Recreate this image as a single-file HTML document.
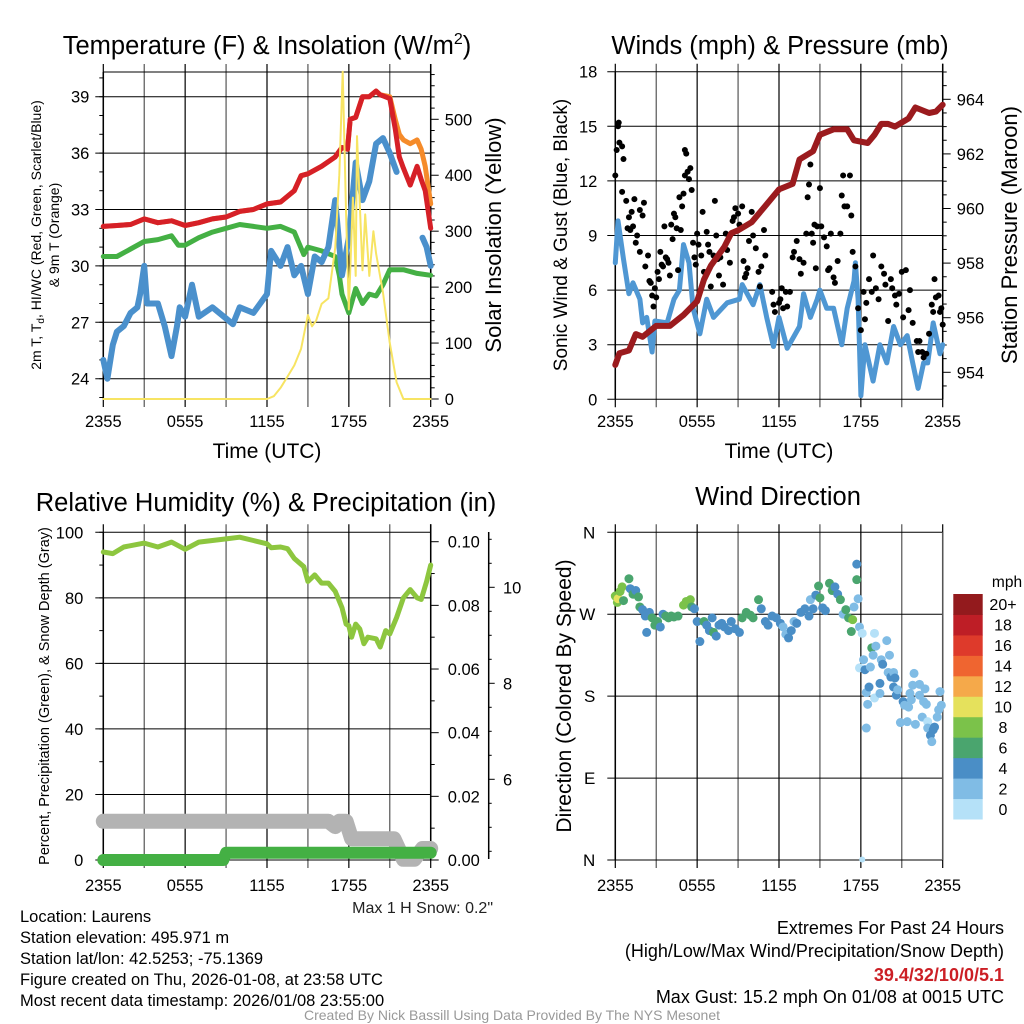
<!DOCTYPE html>
<html><head><meta charset="utf-8">
<style>
html,body{margin:0;padding:0;background:#fff;}
svg{display:block;font-family:"Liberation Sans",sans-serif;}
</style></head>
<body>
<svg id="fig" width="1024" height="1024" viewBox="0 0 1024 1024">
<rect width="1024" height="1024" fill="#fff"/>
<text x="267" y="54" font-size="25.5" text-anchor="middle">Temperature (F) &amp; Insolation (W/m<tspan font-size="16" dy="-10">2</tspan><tspan dy="10">)</tspan></text>
<text x="780" y="54" font-size="25.5" text-anchor="middle">Winds (mph) &amp; Pressure (mb)</text>
<text x="266" y="511" font-size="25.5" text-anchor="middle">Relative Humidity (%) &amp; Precipitation (in)</text>
<text x="778" y="505" font-size="25.5" text-anchor="middle">Wind Direction</text>

<text x="267" y="458" font-size="21" text-anchor="middle">Time (UTC)</text>
<text x="779" y="458" font-size="21" text-anchor="middle">Time (UTC)</text>

<text transform="translate(41,235) rotate(-90)" font-size="14" text-anchor="middle">2m T, T<tspan font-size="10" dy="3">d</tspan><tspan dy="-3">, HI/WC (Red, Green, Scarlet/Blue)</tspan></text>
<text transform="translate(59,235) rotate(-90)" font-size="14" text-anchor="middle">&amp; 9m T (Orange)</text>
<text transform="translate(501,235) rotate(-90)" font-size="22" text-anchor="middle">Solar Insolation (Yellow)</text>
<text transform="translate(567,235) rotate(-90)" font-size="19" text-anchor="middle">Sonic Wind &amp; Gust (Blue, Black)</text>
<text transform="translate(1017,235) rotate(-90)" font-size="22" text-anchor="middle">Station Pressure (Maroon)</text>
<text transform="translate(49,696) rotate(-90)" font-size="14.5" text-anchor="middle">Percent, Precipitation (Green), &amp; Snow Depth (Gray)</text>
<text transform="translate(571,696) rotate(-90)" font-size="21" text-anchor="middle">Direction (Colored By Speed)</text>

<text x="493" y="913" font-size="16" text-anchor="end" fill="#222">Max 1 H Snow: 0.2"</text>
<g font-size="16.5">
<text x="20" y="922">Location: Laurens</text>
<text x="20" y="943">Station elevation: 495.971 m</text>
<text x="20" y="964">Station lat/lon: 42.5253; -75.1369</text>
<text x="20" y="985">Figure created on Thu, 2026-01-08, at 23:58 UTC</text>
<text x="20" y="1006">Most recent data timestamp: 2026/01/08 23:55:00</text>
</g>
<g font-size="18" text-anchor="end">
<text x="1004" y="934">Extremes For Past 24 Hours</text>
<text x="1004" y="957">(High/Low/Max Wind/Precipitation/Snow Depth)</text>
<text x="1004" y="981" fill="#cc1f25" font-weight="bold">39.4/32/10/0/5.1</text>
<text x="1004" y="1003">Max Gust: 15.2 mph On 01/08 at 0015 UTC</text>
</g>
<text x="512" y="1020" font-size="14" text-anchor="middle" fill="#999">Created By Nick Bassill Using Data Provided By The NYS Mesonet</text>
<g id="layer"></g>
</svg>
<script>
// ---- Panel 1 data ----
const redT=[0,1,2,3,4,5,6,7,8,9,10,11,12,13,14,14.5,15,16,17,17.5,17.9,18.1,18.5,19,19.5,20,20.3,21,21.4,21.7,22,22.5,23,23.3,23.6,24];
const redV=[32.1,32.15,32.2,32.5,32.3,32.4,32.15,32.3,32.5,32.6,32.9,33.0,33.3,33.4,34.0,34.8,34.9,35.3,35.8,36.3,36.2,37.8,37.9,39.0,39.0,39.3,39.1,38.9,37.3,35.8,35.2,34.3,35.3,34.6,34.0,32.0];
const orangeT=[0,1,2,3,4,5,6,7,8,9,10,11,12,13,14,14.5,15,16,17,17.5,17.9,18.1,18.5,19,19.5,20,20.3,21,21.4,21.7,22,22.5,23,23.3,23.6,24];
const orangeV=[32.1,32.15,32.2,32.5,32.3,32.4,32.15,32.3,32.5,32.6,32.9,33.0,33.3,33.4,34.0,34.8,34.9,35.3,35.8,36.3,36.2,37.8,37.9,39.0,39.0,39.3,39.1,39.0,37.8,37.0,36.7,36.5,36.7,36.2,35.3,33.3];
const greenT=[0,1,2,3,4,5,5.5,6,7,8,9,10,11,12,13,14,14.7,15,16,17,17.3,17.5,18,18.5,19,19.5,20,20.5,21,22,23,24];
const greenV=[30.5,30.5,30.9,31.3,31.4,31.6,31.1,31.1,31.5,31.8,32.0,32.2,32.1,32.0,32.1,31.8,30.6,31.0,30.8,30.5,29.5,28.5,27.5,28.8,28.0,28.5,28.4,29.0,29.8,29.8,29.6,29.5];
const blueT=[0,0.3,0.7,1,1.5,2,2.5,2.7,3,3.2,4,4.5,5,5.4,5.6,6,6.5,7,8,9,9.5,10,11,12,12.3,13,13.5,14,14.5,15,15.5,16,16.5,17,17.5,18,18.5,19,19.5,20,20.5,21,21.5,21.6,23.4,23.7,24];
const blueV=[25.0,24.0,25.8,26.5,26.8,27.5,27.8,28.5,30.0,28.0,28.0,26.8,25.2,26.8,27.8,27.3,29.0,27.3,27.8,27.2,26.9,27.8,27.5,28.5,30.8,30.0,31.0,29.5,30.0,28.5,30.5,30.2,31.0,33.5,29.5,31.5,35.5,33.5,34.5,36.5,36.8,36.0,35.0,null,31.5,31.0,30.0];
const solarT=[0,12,12.5,13,13.5,14,14.5,15,15.3,15.6,16,16.5,17,17.3,17.55,17.8,18,18.3,18.5,18.6,19,19.2,19.5,19.8,20,20.5,21,21.5,22,24];
const solarV=[0,0,5,20,40,60,90,150,130,140,170,180,270,400,585,330,160,360,220,470,230,330,220,300,260,190,100,30,0,0];
const p1LeftTicks=[24,27,30,33,36,39];
const p1RightTicks=[0,100,200,300,400,500];
const timeTickLabels=["2355","0555","1155","1755","2355"];
// ---- Panel 2 data ----
const windT=[0,0.2,0.6,1,1.3,1.8,2,2.3,2.7,2.9,3.8,4.3,4.7,5,5.4,5.7,6.2,6.7,7.2,8.2,9.1,9.3,10.1,10.6,11.1,11.6,12,12.6,13.5,13.8,14.3,14.8,15,15.5,16,16.6,17,17.5,17.6,17.8,18,18.3,18.9,19.4,19.9,20.4,20.9,21.4,21.8,22.2,22.6,22.9,23.3,23.8,24];
const windV=[7.5,9.8,7.7,5.8,6.4,5.5,4.2,4.5,2.6,4.3,4.2,5.5,6.0,8.5,7.5,5.0,3.6,5.5,4.5,5.3,5.5,6.3,5.2,6.3,4.5,2.9,4.5,2.8,4.0,5.8,4.5,5.5,6.0,5.0,5.0,3.0,5.0,6.5,7.5,5.5,0.2,3.0,1.0,3.0,2.0,4.0,3.0,3.5,2.0,0.6,2.0,2.0,4.2,2.5,3.0];
const gustT=[0,0.1,0.2,0.25,0.3,0.5,0.6,0.5,0.8,0.9,1.0,1.1,1.2,1.3,1.4,1.5,1.6,1.8,1.8,2.0,2.1,2.2,2.4,2.5,2.6,2.7,2.8,2.9,3.0,3.1,3.2,3.3,3.4,3.5,3.6,3.7,3.8,3.9,4.0,4.1,4.2,4.3,4.4,4.5,4.6,4.7,4.8,4.9,5.0,5.1,5.1,5.2,5.3,5.4,5.5,5.6,5.7,5.8,5.9,6.0,6.1,6.3,6.4,6.5,6.7,6.8,6.9,7.0,7.2,7.3,7.4,7.5,7.6,7.7,7.9,8.1,8.2,8.4,8.6,8.7,8.8,9.0,9.1,9.3,9.4,9.5,9.6,9.7,9.8,10.0,10.1,10.3,10.5,10.6,10.7,10.9,11.0,11.5,11.6,11.7,12.0,12.1,12.2,12.3,12.5,12.6,12.8,13.0,13.1,13.3,13.5,13.6,13.8,14.0,14.1,14.2,14.3,14.4,14.5,14.6,14.7,14.8,15.0,15.1,15.3,15.5,15.6,15.7,15.8,16.0,16.1,16.3,16.5,16.6,16.7,16.8,17.0,17.2,17.3,17.4,17.6,17.8,18.0,18.2,18.3,18.4,18.6,18.8,18.9,19.1,19.3,19.5,19.7,19.8,20.0,20.2,20.3,20.5,20.6,20.8,21.0,21.1,21.3,21.5,21.6,21.8,22.1,22.2,22.3,22.5,22.6,22.8,23.0,23.2,23.3,23.4,23.5,23.7,23.8,23.9,24.0];
const gustV=[12.3,13.7,15.0,15.2,14.1,13.9,13.2,11.4,10.9,9.4,10.0,9.3,10.3,9.5,11.0,8.6,9.0,8.1,10.4,10.1,10.8,7.3,7.9,6.5,6.4,5.7,5.1,6.1,5.6,7.0,6.6,8.1,7.4,7.3,9.5,7.8,7.7,7.5,6.8,9.6,8.8,10.2,10.0,9.4,7.1,11.1,9.3,10.6,11.3,12.3,13.7,13.5,12.5,12.1,12.7,11.5,8.6,7.8,7.4,9.1,8.5,7.9,10.3,7.0,9.2,8.5,8.1,6.2,7.9,10.9,9.0,7.7,6.8,7.8,6.3,9.1,8.2,7.5,9.8,10.0,10.5,10.2,9.6,10.6,7.6,6.7,6.9,7.2,8.7,10.3,9.0,8.3,7.0,6.2,7.3,9.3,7.9,5.9,5.2,4.8,5.3,5.5,6.1,5.0,5.9,5.1,5.9,7.8,8.1,8.7,7.7,6.9,7.5,9.1,11.1,11.8,12.9,9.1,8.6,9.6,7.2,9.5,11.6,9.5,8.9,8.4,7.1,7.2,9.1,6.7,6.4,7.6,9.1,11.2,12.3,10.6,10.6,12.3,10.1,8.1,7.3,5.0,3.8,5.9,4.4,5.3,6.6,5.9,7.9,6.1,5.5,7.3,6.9,6.3,4.3,6.6,6.1,5.7,5.2,5.8,7.0,4.5,7.1,4.9,6.0,4.2,3.2,2.6,3.2,2.6,2.3,2.5,3.6,5.2,4.8,6.6,5.6,5.7,4.8,5.0,4.1];
const presT=[0,0.3,1,1.5,2,3,4,5,6,6.5,7,8,8.5,9,10,11,12,13,13.5,14.5,15,15.5,16,17,17.5,18.5,19,19.5,20,20.5,21.5,22,23,23.5,24];
const presV=[954.27,954.7,954.8,955.4,955.3,955.7,955.7,956.1,956.6,957.4,957.9,958.6,959.1,959.2,959.5,960.1,960.7,960.9,961.8,962.1,962.7,962.8,962.9,962.9,962.5,962.4,962.7,963.1,963.1,963.0,963.3,963.7,963.5,963.55,963.8];
const p2LeftTicks=[0,3,6,9,12,15,18];
const p2RightTicks=[954,956,958,960,962,964];
// ---- Panel 3 data ----
const rhT=[0,0.7,1.5,3,4,5,6,7,8,9,10,11,12,12.3,13,13.5,14,14.7,15,15.5,16,16.5,17,17.5,17.8,18,18.2,18.5,18.8,19.1,19.4,20,20.3,20.7,21,21.5,22,22.5,23,23.3,23.7,24];
const rhV=[94,93.5,95.5,96.7,95.5,97,94.8,97,97.5,98,98.5,97.5,96.5,95.3,95.5,95,92,89.5,85,87,84.5,84.5,82,77,72,71.5,68,72,70.5,66,68,67.5,65,70,69,74,80,82.5,80,79.5,85,90];
const snowT=[0,16.5,17,17.3,17.8,18.2,21.3,22,22.8,23.4,24];
const snowV=[11.8,11.8,10.2,11.8,11.8,6.5,6.5,0.2,0.2,3.5,3.5];
const precipT=[0,8.8,9.0,24];
const precipV=[0,0,0.0023,0.0023];
const p3LeftTicks=[0,20,40,60,80,100];
const p3RightTicks=[0.00,0.02,0.04,0.06,0.08,0.10];
const p3SnowTicks=[6,8,10];
// ---- Panel 4 data ----
const dirT=[0,0.15,0.2,0.35,0.5,0.6,1.0,1.1,1.3,1.5,1.7,1.8,2.0,2.2,2.3,2.5,2.7,2.9,3.1,3.3,3.5,3.7,3.9,4.1,4.3,4.6,5.0,5.2,5.5,5.6,5.8,6.0,6.2,6.5,6.7,6.9,7.1,7.2,7.4,7.6,7.8,8.0,8.3,8.5,8.8,9.1,9.3,9.6,9.9,10.1,10.5,10.7,11.0,11.2,11.5,11.8,12.1,12.3,12.5,12.7,12.9,13.1,13.3,13.6,13.9,14.2,14.3,14.5,14.7,14.9,15.0,15.2,15.4,15.7,15.9,16.1,16.3,16.5,16.7,16.9,17.1,17.3,17.4,17.5,17.7,17.7,17.8,17.9,17.9,18.1,18.2,18.3,18.4,18.4,18.5,18.6,18.7,18.8,18.9,19.0,19.0,19.1,19.4,19.4,19.5,19.6,19.9,20.0,20.1,20.2,20.4,20.4,20.5,20.6,20.7,20.9,21.1,21.2,21.4,21.5,21.6,21.7,21.8,21.9,22.0,22.3,22.3,22.5,22.6,22.7,22.8,22.9,22.9,23.1,23.2,23.3,23.4,23.6,23.7,23.8,23.9,24.0];
const dirV=[290,283,287,295,300,285,309,298,292,296,289,278,275,268,250,272,266,258,262,256,270,268,266,268,267,268,280,284,286,278,276,262,240,262,258,252,266,250,246,258,260,256,252,262,254,250,266,272,269,266,286,276,262,258,268,266,260,256,248,244,252,262,260,272,276,268,286,276,291,301,288,277,274,304,296,300,292,286,270,275,266,251,264,278,308,325,287,256,211,249,220,209,184,145,171,190,212,233,225,249,178,235,183,194,220,215,241,206,225,201,190,206,200,181,187,151,174,170,152,168,183,176,192,205,149,193,181,157,174,188,171,152,145,137,130,143,146,157,165,185,170];
const dirS=[8,8,10,8,9,7,6,5,7,4,7,6,4,5,4,4,6,6,6,4,4,6,6,6,6,6,8,8,8,6,4,4,4,6,4,4,4,6,4,4,4,4,4,4,4,4,6,6,6,6,6,4,4,4,4,4,4,2,2,4,4,2,4,4,4,4,2,4,4,6,6,4,4,6,6,4,4,6,2,6,6,6,8,2,6,4,2,2,0,0,2,4,2,2,2,4,2,6,2,0,0,2,2,4,2,4,2,2,2,4,4,2,4,4,2,2,4,2,2,2,2,2,2,2,2,2,2,2,2,2,2,0,2,4,2,4,4,2,2,2,2,2];
const dirTickValues=[0,90,180,270,360];
const dirLabels=["N","E","S","W","N"];
const cbLabels=["0","2","4","6","8","10","12","14","16","18","20+"];
const cbColors=["#b5e1f8","#80bce5","#4a8ec6","#4aa56e","#7bc24a","#e5e15c","#f5a94a","#ef6530","#de3a2b","#be1e26","#931a1d"];

const NS="http://www.w3.org/2000/svg";
const layer=document.getElementById('layer');
function mk(tag,attrs,parent){const e=document.createElementNS(NS,tag);for(const k in attrs)e.setAttribute(k,attrs[k]);(parent||layer).appendChild(e);return e;}
function lin(d0,d1,r0,r1){return v=>r0+(v-d0)/(d1-d0)*(r1-r0);}
function pathD(ts,vs,sx,sy){let d="",pen=false;for(let i=0;i<ts.length;i++){if(vs[i]===null||vs[i]===undefined){pen=false;continue;}d+=(pen?"L":"M")+sx(ts[i]).toFixed(1)+","+sy(vs[i]).toFixed(1);pen=true;}return d;}
function grid(L,R,T,B,hy,sx){
  const g=mk('g',{});
  
  
  for(let h=0;h<=24;h+=3){const x=sx(h);const gl=mk('line',{x1:x,x2:x,y1:T-8,y2:B+8,stroke:(h%6===0)?'#000':'#555','stroke-width':1.2},g);}
  hy.forEach(y=>{const hl=mk('line',{x1:L-8,x2:R,y1:y,y2:y,stroke:'#000','stroke-width':1},g);});
  return g;
}
function timeLabels(sx,y){timeTickLabels.forEach((s,i)=>{const t=mk('text',{x:sx(i*6),y:y,'font-size':16.5,'text-anchor':'middle'});t.textContent=s;});}
function label(x,y,s,anchor,size){const t=mk('text',{x:x,y:y,'font-size':size||16.5,'text-anchor':anchor});t.textContent=s;return t;}
function seriesPath(ts,vs,sx,sy,color,w,name){const p=mk('path',{d:pathD(ts,vs,sx,sy),fill:'none',stroke:color,'stroke-width':w,'stroke-linejoin':'round','stroke-linecap':'round'});return p;}

// ===== Panel 1 =====
(function(){
  const L=103.3,R=430.7,T=72,B=399;
  const sx=lin(0,24,L,R), sy=lin(24,39,378.7,96.7), sy2=lin(0,500,399,119.3);
  grid(L,R,T,B,p1LeftTicks.map(sy),sx);
  mk('line',{x1:L,x2:R,y1:T,y2:T,stroke:'#000'});
  mk('line',{x1:L,x2:L,y1:T,y2:B,stroke:'#000','stroke-width':1.5});
  mk('line',{x1:R,x2:R,y1:T-8,y2:B,stroke:'#000','stroke-width':1.5});
  for(let v=0;v<=580;v+=20){const y=sy2(v);mk('line',{x1:R,x2:R+(v%100===0?8:4),y1:y,y2:y,stroke:'#000'});}
  for(let v=23;v<=40;v+=1){const y=sy(v);mk('line',{x1:L,x2:L-4,y1:y,y2:y,stroke:'#000'});}
  p1LeftTicks.forEach(v=>label(L-14,sy(v)+6,String(v),'end'));
  p1RightTicks.forEach(v=>label(R+14,sy2(v)+6,String(v),'start'));
  timeLabels(sx,427);
  seriesPath(orangeT,orangeV,sx,sy,'#f58b2a',5,'orange-9m-temp-line');
  seriesPath(redT,redV,sx,sy,'#d62027',5,'red-2m-temp-line');
  seriesPath(greenT,greenV,sx,sy,'#44b044',5,'green-dewpoint-line');
  seriesPath(blueT,blueV,sx,sy,'#4a90cc',6,'blue-windchill-line');
  seriesPath(solarT,solarV,sx,sy2,'#f7e463',2,'yellow-solar-line');
})();

// ===== Panel 2 =====
(function(){
  const L=615.3,R=942.7,T=71.7,B=399.3;
  const sx=lin(0,24,L,R), sy=lin(0,18,B,T), sy2=lin(954,964,372.3,99.3);
  grid(L,R,T,B,p2LeftTicks.map(sy),sx);
  mk('line',{x1:L,x2:L,y1:T,y2:B,stroke:'#000','stroke-width':1.5});
  mk('line',{x1:R,x2:R,y1:T-8,y2:B,stroke:'#000','stroke-width':1.5});
  for(let k=1907;k<=1930;k++){const v=k/2;const y=sy2(v);if(y<T||y>B)continue;mk('line',{x1:R,x2:R+(k%4===0?8:4),y1:y,y2:y,stroke:'#000'});}
  p2LeftTicks.forEach(v=>label(L-18,sy(v)+6,String(v),'end'));
  p2RightTicks.forEach(v=>label(R+14,sy2(v)+6,String(v),'start'));
  timeLabels(sx,427);
  seriesPath(windT,windV,sx,sy,'#4f97d3',5,'blue-wind-line');
  const gg=mk('g',{});
  
  
  gustT.forEach((t,i)=>{if(gustV[i]===undefined)return;const c=mk('circle',{cx:sx(t),cy:sy(gustV[i]),r:3,fill:'#000'},gg);});
  seriesPath(presT,presV,sx,sy2,'#9b1b1e',6,'maroon-pressure-line');
})();

// ===== Panel 3 =====
(function(){
  const L=103.3,R=430.7,T=532.3,B=860;
  const sx=lin(0,24,L,R), sy=lin(0,100,B,T), sy2=lin(0,0.10,B,541.7), sy3=lin(6,10,779.3,587.3);
  grid(L,R,T,B,p3LeftTicks.map(sy),sx);
  mk('line',{x1:L,x2:L,y1:T,y2:B,stroke:'#000','stroke-width':1.5});
  mk('line',{x1:R,x2:R,y1:T-8,y2:B,stroke:'#000','stroke-width':1.5});
  for(let v=10;v<=100;v+=10){const y=sy(v);mk('line',{x1:L,x2:L-4,y1:y,y2:y,stroke:'#000'});}
  for(let k=0;k<=10;k++){const y=sy2(k*0.01);mk('line',{x1:R,x2:R+(k%2===0?8:4),y1:y,y2:y,stroke:'#000'});}
  mk('line',{x1:488.7,x2:488.7,y1:532,y2:859,stroke:'#000','stroke-width':1.5});
  for(let v=4.5;v<=11;v+=0.5){const y=sy3(v);if(y<532||y>859)continue;mk('line',{x1:488.7,x2:488.7+(v%2===0?6:3),y1:y,y2:y,stroke:'#000'});}
  p3LeftTicks.forEach(v=>label(L-20,sy(v)+6,String(v),'end'));
  p3RightTicks.forEach(v=>label(R+17,sy2(v)+6,v.toFixed(2),'start'));
  p3SnowTicks.forEach(v=>label(503,sy3(v)+6,String(v),'start'));
  timeLabels(sx,891);
  seriesPath(snowT,snowV,sx,sy,'#b3b3b3',15,'gray-snow-depth-line');
  seriesPath(precipT,precipV,sx,sy2,'#44b044',12,'green-precip-line');
  seriesPath(rhT,rhV,sx,sy,'#8dc63f',5,'rh-line');
})();

// ===== Panel 4 =====
(function(){
  const L=615.3,R=942.7,T=532.3,B=860;
  const sx=lin(0,24,L,R), sy=lin(0,360,B,T);
  grid(L,R,T,B,dirTickValues.map(sy),sx);
  mk('line',{x1:L,x2:L,y1:T,y2:B,stroke:'#000','stroke-width':1.5});
  mk('line',{x1:R,x2:R,y1:T,y2:B,stroke:'#555','stroke-width':1.5});
  dirTickValues.forEach((v,i)=>{label(L-20,sy(v)+6,dirLabels[i],'end',17);});
  timeLabels(sx,891);
  const dg=mk('g',{});
  
  
  dirT.forEach((t,i)=>{if(dirV[i]===undefined)return;const s=dirS[i]===undefined?2:dirS[i];const bin=Math.min(10,Math.floor(s/2));const c=mk('circle',{cx:sx(t),cy:sy(dirV[i]),r:4.5,fill:cbColors[bin]},dg);});
  const c0=mk('circle',{cx:sx(18.1),cy:sy(0.5),r:3,fill:cbColors[0]},dg);
  
  
  const cb=mk('g',{});
  
  
  const cbT=594,cbB=819,h=(cbB-cbT)/11;
  cbColors.forEach((col,i)=>{const y=cbB-(i+1)*h;const r=mk('rect',{x:953.3,y:y,width:29.4,height:h+0.5,fill:col},cb);
    const t=mk('text',{x:1003,y:y+h/2+6,'font-size':16,'text-anchor':'middle'},cb);t.textContent=cbLabels[i];});
  const u=mk('text',{x:1007,y:587,'font-size':15.5,'text-anchor':'middle'},cb);u.textContent='mph';
  
  
})();
</script>
</body></html>
